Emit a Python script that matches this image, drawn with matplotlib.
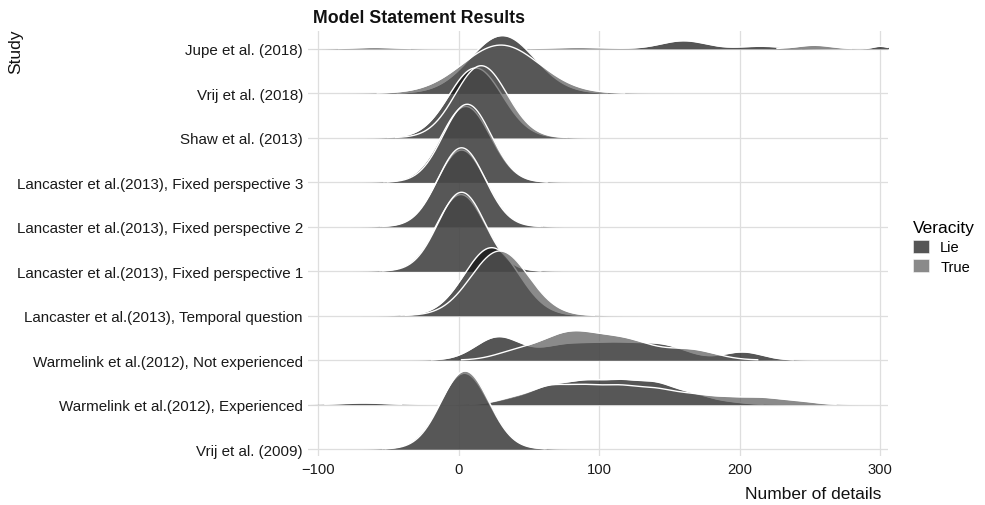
import numpy as np
import matplotlib
matplotlib.use("Agg")
import matplotlib.pyplot as plt
from matplotlib.patches import Patch

plt.rcParams['font.family'] = ['Liberation Sans', 'DejaVu Sans']

# ---------------- data ----------------
# studies listed from top row to bottom row
studies = [
    "Jupe et al. (2018)",
    "Vrij et al. (2018)",
    "Shaw et al. (2013)",
    "Lancaster et al.(2013), Fixed perspective 3",
    "Lancaster et al.(2013), Fixed perspective 2",
    "Lancaster et al.(2013), Fixed perspective 1",
    "Lancaster et al.(2013), Temporal question",
    "Warmelink et al.(2012), Not experienced",
    "Warmelink et al.(2012), Experienced",
    "Vrij et al. (2009)",
]
veracity = ["Lie", "True"]

# density of each study / veracity as mixture components: (mean, sd, weight)
jupe_lie = [(-60, 15, 0.0136), (85, 20, 0.018), (160, 16, 0.0965), (215, 14, 0.0264), (300, 5, 0.0094)]
jupe_true = [(253, 12, 0.0317)]
vrij18_lie = [(31, 23, 1.0)]
vrij18_true = [(30, 27.5, 1.0)]
shaw_lie = [(12, 19, 1.0)]
shaw_true = [(16, 18.4, 1.0)]
fp3_lie = [(5, 17.5, 1.0)]
fp3_true = [(6, 17, 1.0)]
fp2_lie = [(2, 17.3, 1.0)]
fp2_true = [(2, 16.8, 1.0)]
fp1_lie = [(1.5, 17.3, 1.0)]
fp1_true = [(2, 16.8, 1.0)]
temporal_lie = [(23.4, 19.5, 1.0)]
temporal_true = [(29.3, 20.5, 1.0)]
wne_lie = [(28, 16, 0.277), (75, 18, 0.19), (110, 18, 0.19), (145, 18, 0.19), (202, 14, 0.0845)]
wne_true = [(40, 15, 0.079), (78, 20, 0.392), (118, 20, 0.287), (165, 18, 0.136)]
we_lie = [(-68, 15, 0.017), (40, 13, 0.053), (65, 13, 0.158), (90, 13, 0.188), (115, 13, 0.190),
          (140, 13, 0.180), (165, 13, 0.090), (190, 13, 0.023)]
we_true = [(40, 13, 0.060), (65, 13, 0.158), (90, 13, 0.150), (115, 13, 0.150), (140, 13, 0.128),
           (165, 13, 0.083), (190, 13, 0.058), (215, 13, 0.058), (240, 13, 0.032)]
vrij09_lie = [(4, 17.5, 1.0)]
vrij09_true = [(4.5, 17, 1.0)]

lie_series = [jupe_lie, vrij18_lie, shaw_lie, fp3_lie, fp2_lie, fp1_lie,
              temporal_lie, wne_lie, we_lie, vrij09_lie]
true_series = [jupe_true, vrij18_true, shaw_true, fp3_true, fp2_true, fp1_true,
               temporal_true, wne_true, we_true, vrij09_true]

x_ticks = [-100, 0, 100, 200, 300]

# ---------------- drawing ----------------
SCALE = 74.7          # ridge height scaling (rows per density unit)
LIE_COL = "#0d0d0d"
TRUE_COL = "#595959"
ALPHA = 0.7

fig = plt.figure(figsize=(9.85, 5.06), dpi=100)
ax = fig.add_axes([308 / 985, 49 / 506, 580 / 985, 425 / 506])

xs = np.linspace(-108, 308, 1665)


def density(comps, x):
    d = np.zeros_like(x)
    for m, s, w in comps:
        d += w * np.exp(-0.5 * ((x - m) / s) ** 2) / (s * np.sqrt(2 * np.pi))
    return d


n = len(studies)
z = 2
for i, name in enumerate(studies):
    base = n - 1 - i
    for comps, col in ((lie_series[i], LIE_COL), (true_series[i], TRUE_COL)):
        h = SCALE * density(comps, xs)
        ax.fill_between(xs, base, base + h, color=col, alpha=ALPHA, lw=0, zorder=z)
        top = np.where(h > 0.006, base + h, np.nan)
        ax.plot(xs, top, color="white", lw=1.0, zorder=z + 0.5, solid_capstyle="butt")
        z += 1

ax.set_xlim(-107.3, 305.5)
ax.set_ylim(-0.157, 9.40)
ax.set_yticks(range(n))
ax.set_yticklabels(studies[::-1])
ax.set_xticks(x_ticks)
ax.grid(True, color="#dedede", lw=0.9, zorder=0)
ax.set_axisbelow(True)
for sp in ax.spines.values():
    sp.set_visible(False)
ax.tick_params(axis="both", length=0, colors="#1a1a1a")
ax.tick_params(axis="y", labelsize=10.9, pad=3.6)
ax.tick_params(axis="x", labelsize=10.6, pad=4.5)

fig.text(313 / 985, 1 - 18.5 / 506, "Model Statement Results", fontsize=12.8,
         fontweight="bold", ha="left", va="center", color="#111111")
fig.text(15.5 / 985, 1 - 30 / 506, "Study", rotation=90, fontsize=12.5,
         ha="center", va="top", color="#111111")
fig.text(881 / 985, 1 - 495 / 506, "Number of details", fontsize=12.5,
         ha="right", va="center", color="#111111")

handles = [Patch(facecolor=LIE_COL, alpha=ALPHA, edgecolor="white", lw=0.5),
           Patch(facecolor=TRUE_COL, alpha=ALPHA, edgecolor="white", lw=0.5)]
leg = fig.legend(handles, veracity, title="Veracity", loc="upper left",
                 bbox_to_anchor=(903 / 985, 1 - 211 / 506), frameon=False,
                 fontsize=10.5, title_fontsize=12.5, handlelength=1.05,
                 handleheight=1.0, handletextpad=0.8, labelspacing=0.32,
                 borderpad=0.2, alignment="left")

fig.savefig("out.png", dpi=100)
